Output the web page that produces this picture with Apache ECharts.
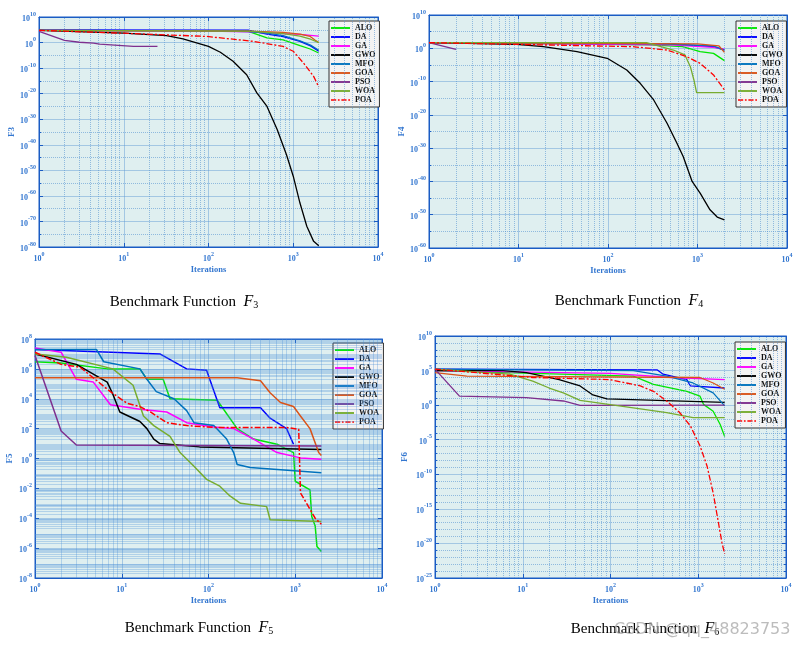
<!DOCTYPE html>
<html><head><meta charset="utf-8">
<script src="https://cdn.jsdelivr.net/npm/echarts@6/dist/echarts.min.js"></script>
<style>html,body{margin:0;padding:0;background:#fff}#c{width:804px;height:648px}</style>
</head><body><div id="c"></div><script>
// ---------- names, colours ----------
const NAMES = ['ALO','DA','GA','GWO','MFO','GOA','PSO','WOA','POA'];
const COLORS = ['#00e600','#0000ff','#ff00ff','#000000','#0072bd','#d95319','#7e2f8e','#77ac30','#ff0000'];
const X_TICK_EXP = [0, 1, 2, 3, 4];           // iterations axis: 10^0 .. 10^4
const TITLES = ['3', '4', '5', '6'];

// ---------- F3 : [iteration, fitness] ----------
const F3_ALO = [[1,6e4],[50,4e4],[295,2.5e4],[490,63],[760,12],[1200,0.06],[1585,3e-3],[2000,8e-5]];
const F3_DA  = [[1,1e5],[295,8e4],[330,3e4],[490,2e3],[760,2e2],[1200,3],[1600,0.05],[2000,4e-4]];
const F3_GA  = [[1,6e4],[100,3e4],[300,1.5e4],[760,3e3],[1200,1.5e3],[1600,6e2],[2000,3e2]];
const F3_GWO = [[1,6e4],[10,5e3],[32,5e2],[50,30],[100,0.03],[138,1.6e-4],[195,5e-8],[282,2.5e-13],[372,2e-20],[490,1e-25],[646,1e-34],[832,1.3e-44],[1000,5e-53],[1200,1.6e-63],[1445,1.3e-72],[1740,1.6e-78],[2000,3e-80]];
const F3_MFO = [[1,6e4],[100,4e4],[300,2e4],[490,5e3],[760,5e2],[1200,5],[1600,0.1],[2000,1e-3]];
const F3_GOA = [[1,6e4],[300,3e4],[760,1e4],[1200,2e3],[1585,2.5e2],[1800,10],[2000,1]];
const F3_PSO = [[1,2.5e4],[2,7.4],[3,1.3],[4.4,0.6],[5.2,0.25],[13,0.03],[25,0.03]];
const F3_WOA = [[1,6e4],[300,3e4],[760,3e3],[1200,3e2],[1600,20],[2000,1]];
const F3_POA = [[1,6e4],[9,5e3],[95,2.5e2],[340,3],[760,0.03],[1000,4e-4],[1320,1e-8],[1740,6e-14],[2000,4e-18]];

// ---------- F4 ----------
const F4_ALO = [[1,50],[300,10],[680,3],[1070,0.1],[1510,0.03],[2000,2e-4]];
const F4_DA  = [[1,50],[500,20],[1500,3],[2000,0.3]];
const F4_GA  = [[1,40],[500,10],[1500,2],[2000,0.6]];
const F4_GWO = [[1,50],[9.5,16],[19,3],[45,0.1],[98,1e-3],[162,3e-7],[229,3e-11],[324,3e-16],[457,3e-23],[589,3e-29],[692,3e-33],[871,1e-40],[1070,3e-44],[1380,3e-49],[1660,2e-51],[2000,3e-52]];
const F4_MFO = [[1,50],[400,20],[1500,5],[2000,0.3]];
const F4_GOA = [[1,50],[1000,20],[1740,5],[2000,0.06]];
const F4_PSO = [[1,50],[2,0.5]];
const F4_WOA = [[1,50],[270,50],[537,0.3],[724,0.01],[832,3e-6],[912,3e-10],[977,5e-14],[2000,5e-14]];
const F4_POA = [[1,50],[190,3],[457,0.3],[760,3e-3],[1070,3e-5],[1510,1e-8],[2000,3e-13]];

// ---------- F5 ----------
const F5_ALO = [[1,3e6],[2,2.5e6],[6.8,1e6],[16.2,1e6],[19.5,2e5],[30,2e5],[36,1e4],[126,8e3],[214,1e2],[331,20],[617,9],[955,2.5],[1000,0.03],[1479,8e-3],[1549,1.3e-4],[1698,3e-5],[1778,1.3e-6],[2000,6e-7]];
const F5_DA  = [[1,2e7],[27.5,1e7],[56,1e6],[95,8e5],[135,2.5e3],[398,2.5e3],[513,5e2],[794,1e2],[955,9]];
const F5_GA  = [[1,2.5e7],[2,1.3e7],[3,2e5],[4.7,1.3e5],[7.4,4e3],[16.2,2e3],[33,1.3e3],[56,2.5e2],[115,1.3e2],[195,1e2],[331,20],[617,2.5],[1148,1.1],[2000,0.9]];
const F5_GWO = [[1,1e7],[3,2e6],[6.8,1.3e5],[7.9,2e4],[9.5,1.3e3],[12.6,6e2],[16.2,3e2],[19.5,1e2],[23.4,20],[27.5,10],[79,6],[2000,4]];
const F5_MFO = [[1,2e7],[5.1,2e7],[6.2,3e6],[16.2,1e6],[19.5,2e5],[25,3e4],[40,1e4],[56,1.6e3],[68,2.5e2],[115,1.6e2],[162,20],[195,2.5],[214,0.4],[302,0.25],[2000,0.11]];
const F5_GOA = [[1,2.5e5],[214,2.5e5],[398,1.6e5],[513,2.5e4],[676,5.6e3],[955,3e3],[1148,7e2],[1479,1e2],[1862,2.5],[2000,1.6]];
const F5_PSO = [[1,8e6],[2,70],[3,8],[2000,7]];
const F5_WOA = [[1,1e7],[2.3,6e6],[7.9,1e6],[13.5,8e4],[17.8,7e2],[23.4,1.6e2],[36,30],[47,2.5],[68,0.3],[95,0.04],[135,0.014],[178,3e-3],[234,1e-3],[468,6e-4],[513,8e-5],[2000,6e-5]];
const F5_POA = [[1,1.3e7],[2,2e6],[3.3,1.3e6],[7.4,3e4],[11.5,5e3],[16.2,3e3],[21.4,1.3e3],[33,2.5e2],[56,1.6e2],[115,1.2e2],[794,1.2e2],[1096,90],[1148,5e-3],[1259,2e-3],[1479,4e-4],[1698,1e-4],[2000,4e-5]];

// ---------- F6 ----------
const F6_ALO = [[1,1e5],[182,1.6e4],[309,1e3],[741,1e2],[1047,20],[1148,1.3],[1479,0.13],[1778,1.6e-3],[2000,3e-5]];
const F6_DA  = [[1,1.6e5],[339,1.3e5],[398,3e4],[741,5e3],[813,6e2],[2000,3e2]];
const F6_GA  = [[1,1e5],[100,4e4],[500,1e4],[2000,5e3]];
const F6_GWO = [[1,1e5],[6,1e5],[11,5e4],[26,5e3],[45,6e2],[63,30],[91,8],[2000,2.5]];
const F6_MFO = [[1,1.6e5],[182,1e5],[437,1.6e4],[871,1.6e3],[1479,60],[2000,0.8]];
const F6_GOA = [[1,5e4],[2.3,1.6e4],[1047,1e4],[1479,1.6e3],[2000,2e2]];
const F6_PSO = [[1,1.6e5],[1.9,20],[11,12],[29,4],[45,0.9],[2000,1]];
const F6_WOA = [[1,1.6e5],[7.1,3e4],[13,3e3],[20,3e2],[29,60],[45,5],[182,0.4],[437,0.08],[871,0.016],[2000,0.016]];
const F6_POA = [[1,1.6e5],[13,1e4],[98,5e3],[219,6e2],[309,1e2],[437,4],[617,0.08],[813,1e-3],[1047,1.3e-6],[1259,1.6e-9],[1479,2e-13],[1698,1e-17],[1862,1.3e-20],[2000,3e-22]];

// ---------- layout ----------
const SERIF = 'Liberation Serif';
const AXIS = '#1a5cc4', LABEL = '#3477d0', BG = '#dfeff0';
const GRID_MAJOR = 'rgba(90,150,210,0.45)', GRID_MINOR = 'rgba(90,150,210,0.6)';

const PANELS = [
  { name:'F3', data:[F3_ALO,F3_DA,F3_GA,F3_GWO,F3_MFO,F3_GOA,F3_PSO,F3_WOA,F3_POA], yMin:-80, yMax:10, yStep:10, yMinor:2, logMinor:false,
    grid:{left:39,top:17,width:339,height:230}, legend:{left:329,top:21}, title:[184,301], nameGap:21 },
  { name:'F4', data:[F4_ALO,F4_DA,F4_GA,F4_GWO,F4_MFO,F4_GOA,F4_PSO,F4_WOA,F4_POA], yMin:-60, yMax:10, yStep:10, yMinor:2, logMinor:false,
    grid:{left:429,top:15,width:358,height:233}, legend:{left:736,top:21}, title:[629,300], nameGap:23 },
  { name:'F5', data:[F5_ALO,F5_DA,F5_GA,F5_GWO,F5_MFO,F5_GOA,F5_PSO,F5_WOA,F5_POA], yMin:-8, yMax:8, yStep:2, yMinor:0, logMinor:true,
    grid:{left:35,top:339,width:347,height:239}, legend:{left:333,top:343}, title:[199,627], nameGap:21 },
  { name:'F6', data:[F6_ALO,F6_DA,F6_GA,F6_GWO,F6_MFO,F6_GOA,F6_PSO,F6_WOA,F6_POA], yMin:-25, yMax:10, yStep:5, yMinor:5, logMinor:false,
    grid:{left:435,top:336,width:351,height:242}, legend:{left:735,top:342}, title:[645,628], nameGap:26 }
];

const LOG_MINOR = [2,3,4,5,6,7,8,9];
function minorLines(lo, hi, key){ const out=[]; for(let d=lo; d<hi; d++) for(const k of LOG_MINOR) out.push({[key]: d+Math.log10(k)}); return out; }
const toLog = arr => arr.map(p => [Math.log10(p[0]), Math.log10(p[1])]);

const tickRich = {
  b:{fontFamily:SERIF, fontWeight:'bold', fontSize:8, color:LABEL, lineHeight:12, verticalAlign:'bottom'},
  e:{fontFamily:SERIF, fontWeight:'bold', fontSize:6, color:LABEL, lineHeight:6, verticalAlign:'top'}
};
const tickFmt = v => '{b|10}{e|' + Math.round(v) + '}';
const LINE_ICON = 'path://M0,0h20v2h-20z';
const DASH_ICON = 'path://M0,0h6v2h-6z M8,0h2v2h-2z M12,0h6v2h-6z M20,0h2v2h-2z';

const grids=[], xAxes=[], yAxes=[], series=[], legends=[], graphics=[];
PANELS.forEach((p, i) => {
  grids.push(Object.assign({show:true, backgroundColor:BG, borderColor:AXIS, borderWidth:1}, p.grid));
  const xMain = {
    type:'value', gridIndex:i, min:X_TICK_EXP[0], max:X_TICK_EXP[X_TICK_EXP.length-1], interval:1, position:'bottom',
    name:'Iterations', nameLocation:'middle', nameGap:18,
    nameTextStyle:{fontFamily:SERIF, fontWeight:'bold', fontSize:8.5, color:LABEL},
    axisLine:{show:true, onZero:false, lineStyle:{color:AXIS, width:1}},
    axisTick:{show:true, inside:true, length:4, lineStyle:{color:AXIS}},
    axisLabel:{formatter:tickFmt, rich:tickRich, margin:4},
    splitLine:{show:true, lineStyle:{color:GRID_MAJOR, width:1}}
  };
  const xTop = {
    type:'value', gridIndex:i, min:X_TICK_EXP[0], max:X_TICK_EXP[X_TICK_EXP.length-1], interval:1, position:'top',
    axisLine:{show:true, onZero:false, lineStyle:{color:AXIS}}, axisTick:{show:true, inside:true, length:4, lineStyle:{color:AXIS}},
    axisLabel:{show:false}, splitLine:{show:false}
  };
  const yMain = {
    type:'value', gridIndex:i, min:p.yMin, max:p.yMax, interval:p.yStep, position:'left',
    name:p.name, nameLocation:'middle', nameGap:p.nameGap, nameRotate:90,
    nameTextStyle:{fontFamily:SERIF, fontWeight:'bold', fontSize:9, color:LABEL},
    axisLine:{show:true, onZero:false, lineStyle:{color:AXIS, width:1}},
    axisTick:{show:true, inside:true, length:4, lineStyle:{color:AXIS}},
    axisLabel:{formatter:tickFmt, rich:tickRich, margin:3},
    splitLine:{show:true, lineStyle:{color:GRID_MAJOR, width:1}},
    minorTick:{show:p.yMinor>0, splitNumber:p.yMinor||2, length:2, lineStyle:{color:AXIS}},
    minorSplitLine:{show:p.yMinor>0, lineStyle:{color:GRID_MINOR, type:'dotted', width:1}}
  };
  const yRight = {
    type:'value', gridIndex:i, min:p.yMin, max:p.yMax, interval:p.yStep, position:'right',
    axisLine:{show:true, onZero:false, lineStyle:{color:AXIS}}, axisTick:{show:true, inside:true, length:4, lineStyle:{color:AXIS}},
    minorTick:{show:p.yMinor>0, splitNumber:p.yMinor||2, length:2, lineStyle:{color:AXIS}},
    axisLabel:{show:false}, splitLine:{show:false}
  };
  xAxes.push(xMain, xTop); yAxes.push(yMain, yRight);
  const xi = 2*i, yi = 2*i;
  // minor (log-spaced) grid lines
  let mlData = minorLines(X_TICK_EXP[0], X_TICK_EXP[X_TICK_EXP.length-1], 'xAxis');
  if (p.logMinor) mlData = mlData.concat(minorLines(p.yMin, p.yMax, 'yAxis'));
  series.push({
    type:'line', name:'_grid'+i, xAxisIndex:xi, yAxisIndex:yi, data:[], z:1, silent:true,
    markLine:{silent:true, animation:false, symbol:['none','none'], label:{show:false},
      emphasis:{disabled:true},
      lineStyle: p.logMinor ? {color:'rgba(70,140,215,0.3)', type:'solid', width:1}
                            : {color:GRID_MINOR, type:'dotted', width:1},
      data:mlData}
  });
  NAMES.forEach((n, k) => {
    series.push({
      type:'line', name:n, xAxisIndex:xi, yAxisIndex:yi, data:toLog(p.data[k]),
      symbol:'none', showSymbol:false, z:3+k, animation:false, color:COLORS[k],
      lineStyle:{color:COLORS[k], width: i===2 ? 1.5 : 1.3, type: n==='POA' ? [6,2,2,2] : 'solid'}
    });
  });
  legends.push({
    data:NAMES.map(n => ({name:n, icon: n==='POA' ? DASH_ICON : LINE_ICON})),
    orient:'vertical', left:p.legend.left, top:p.legend.top, selectedMode:false,
    itemWidth:19, itemHeight:2, itemGap:1, padding:[3,4,3,2],
    backgroundColor:'#f3f3f3', borderColor:'#333', borderWidth:1,
    textStyle:{fontFamily:SERIF, fontWeight:'bold', fontSize:8, lineHeight:8, color:'#111'}
  });
  graphics.push({
    type:'text', x:p.title[0], y:p.title[1],
    style:{text:'{a|Benchmark Function  }{f|F}{s|' + TITLES[i] + '}', align:'center', verticalAlign:'middle',
      rich:{
        a:{fontFamily:SERIF, fontSize:15, color:'#000', lineHeight:18, verticalAlign:'bottom'},
        f:{fontFamily:SERIF, fontSize:16, fontStyle:'italic', color:'#000', lineHeight:18, verticalAlign:'bottom'},
        s:{fontFamily:SERIF, fontSize:10, color:'#000', lineHeight:4, verticalAlign:'bottom'}
      }}
  });
});
graphics.push({type:'text', x:614, y:630, z:100,
  style:{text:'CSDN @qq_48823753', fontFamily:'DejaVu Sans', fontSize:16, fill:'rgba(160,160,160,0.7)', verticalAlign:'middle'}});

const chart = echarts.init(document.getElementById('c'), null, {renderer:'canvas'});
chart.setOption({
  animation:false, backgroundColor:'#fff',
  grid:grids, xAxis:xAxes, yAxis:yAxes, series:series, legend:legends, graphic:graphics
});
</script></body></html>
